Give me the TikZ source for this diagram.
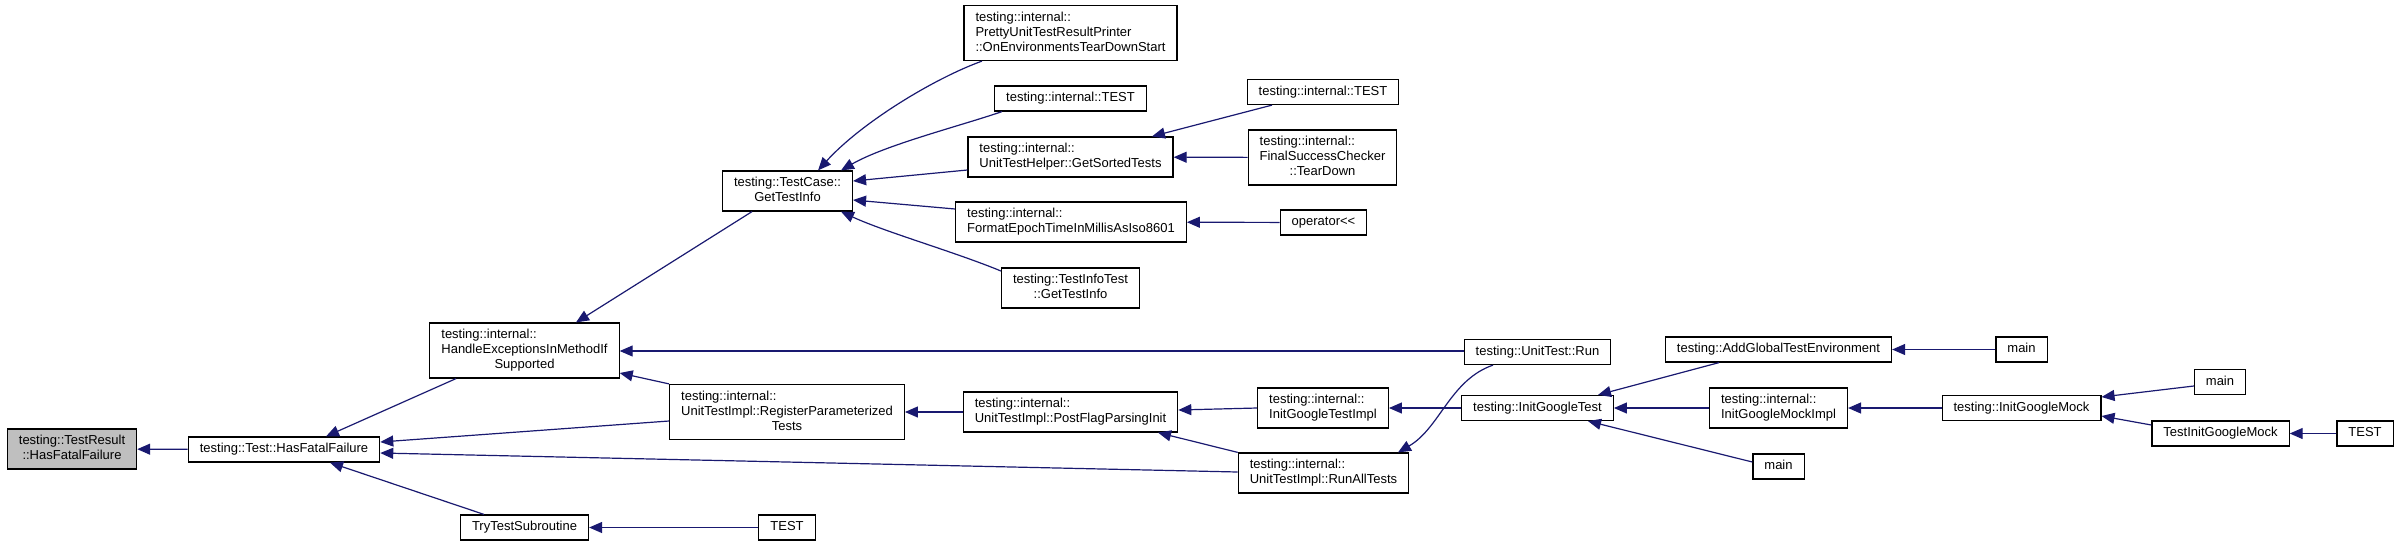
\documentclass[tikz,border=0pt]{standalone}
\usepackage{fontspec}
\setmainfont{Liberation Sans}
\usetikzlibrary{arrows.meta}
\definecolor{edgeblue}{HTML}{191970}
\definecolor{hlgray}{HTML}{BFBFBF}
\newcommand{\mcc}[1]{\multicolumn{1}{@{}c@{}}{#1}}
\newcommand{\tl}[1]{\begin{tabular}{@{}l@{}}#1\end{tabular}}
\newcommand{\tc}[1]{\begin{tabular}{@{}c@{}}#1\end{tabular}}
\tikzset{
  fn/.style={draw=black, fill=white, line width=1.2pt, rectangle, inner xsep=11.5pt, inner ysep=5pt,
    font=\fontsize{13}{15}\selectfont},
  cur/.style={fn, fill=hlgray},
  e/.style={draw=edgeblue, line width=1.2pt, -{Triangle[length=13pt,width=11pt]}}
}
\begin{document}
\begin{tikzpicture}[x=1pt,y=-1pt]
\useasboundingbox (0,0) rectangle (2395,547);
% column 0
\node[cur] (tr) at (72,449) {\tc{testing::TestResult\\::HasFatalFailure}};
% column 1
\node[fn] (hff) at (284,449.5) {\strut testing::Test::HasFatalFailure};
% column 2
\node[fn] (hei) at (524.5,350.5) {\tl{testing::internal::\\HandleExceptionsInMethodIf\\\mcc{Supported}}};
\node[fn] (tts) at (524.5,527.5) {\strut TryTestSubroutine};
% column 3
\node[fn] (gti) at (787.5,191) {\tc{testing::TestCase::\\GetTestInfo}};
\node[fn] (rpt) at (787,412) {\tl{testing::internal::\\UnitTestImpl::RegisterParameterized\\\mcc{Tests}}};
\node[fn] (testb) at (787,527.5) {\strut TEST};
% column 4
\node[fn] (pretty) at (1070.5,33) {\tl{testing::internal::\\PrettyUnitTestResultPrinter\\::OnEnvironmentsTearDownStart}};
\node[fn] (itesta) at (1070.5,98.5) {\strut testing::internal::TEST};
\node[fn] (gst) at (1070.5,157) {\tl{testing::internal::\\UnitTestHelper::GetSortedTests}};
\node[fn] (fet) at (1071,222) {\tl{testing::internal::\\FormatEpochTimeInMillisAsIso8601}};
\node[fn] (tit) at (1070.5,288) {\tc{testing::TestInfoTest\\::GetTestInfo}};
\node[fn] (pfp) at (1070.5,412) {\tl{testing::internal::\\UnitTestImpl::PostFlagParsingInit}};
% column 5
\node[fn] (itestb) at (1323,92) {\strut testing::internal::TEST};
\node[fn] (fsc) at (1322.5,157.5) {\tl{testing::internal::\\FinalSuccessChecker\\\mcc{::TearDown}}};
\node[fn] (opl) at (1323.5,222.5) {\strut operator<{}<};
\node[fn] (igti) at (1323,408) {\tl{testing::internal::\\InitGoogleTestImpl}};
\node[fn] (rat) at (1323.5,473) {\tl{testing::internal::\\UnitTestImpl::RunAllTests}};
% column 6
\node[fn] (utr) at (1537.5,352) {\strut testing::UnitTest::Run};
\node[fn] (igt) at (1537.5,408) {\strut testing::InitGoogleTest};
% column 7
\node[fn] (agte) at (1778.5,349.5) {\strut testing::AddGlobalTestEnvironment};
\node[fn] (igmi) at (1778.5,408) {\tl{testing::internal::\\InitGoogleMockImpl}};
\node[fn] (mainb) at (1778.5,466.5) {\strut main};
% column 8
\node[fn] (maint) at (2021.5,349.5) {\strut main};
\node[fn] (igm) at (2021.5,408) {\strut testing::InitGoogleMock};
% column 9
\node[fn] (mainr) at (2220,382) {\strut main};
\node[fn] (tigm) at (2220.5,433.5) {\strut TestInitGoogleMock};
% column 10
\node[fn] (testr) at (2365,433.5) {\strut TEST};

% edges (caller -> callee)
\draw[e] (hff) -- (tr);
\draw[e] (hei.south -| 456,0) -- (hff.north -| 326,0);
\draw[e] (rpt.west |- 0,421) -- (hff.east |- 0,442);
\draw[e] (rat.west |- 0,472) -- (hff.east |- 0,453);
\draw[e] (tts.north -| 484,0) -- (hff.south -| 330,0);
\draw[e] (testb) -- (tts);
\draw[e] (gti.south -| 752,0) -- (hei.north -| 576,0);
\draw[e] (rpt.north west) -- (hei.east |- 0,373);
\draw[e] (utr.west |- 0,351) -- (hei.east |- 0,351);
\draw[e] (pretty.south -| 982,0) .. controls (935,78) and (862,122) .. (gti.north -| 818,0);
\draw[e] (itesta.south -| 1002,0) .. controls (960,126) and (885,145) .. (gti.north -| 841,0);
\draw[e] (gst.west |- 0,170) -- (gti.east |- 0,181);
\draw[e] (fet.west |- 0,209) -- (gti.east |- 0,200);
\draw[e] (tit.west |- 0,271) .. controls (955,252) and (885,232) .. (gti.south -| 841,0);
\draw[e] (pfp) -- (rpt);
\draw[e] (itestb.south -| 1272,0) -- (gst.north -| 1152,0);
\draw[e] (fsc) -- (gst);
\draw[e] (opl) -- (fet);
\draw[e] (igti.west) -- (pfp.east |- 0,410);
\draw[e] (rat.north west) -- (pfp.south -| 1158,0);
\draw[e] (utr.south -| 1493,0) .. controls (1450,380) and (1440,428) .. (rat.north -| 1398,0);
\draw[e] (igt) -- (igti);
\draw[e] (agte.south -| 1719,0) -- (igt.north -| 1598,0);
\draw[e] (igmi) -- (igt);
\draw[e] (mainb.west |- 0,462) -- (igt.south -| 1588,0);
\draw[e] (maint) -- (agte);
\draw[e] (igm) -- (igmi);
\draw[e] (mainr.west |- 0,386) -- (igm.east |- 0,397);
\draw[e] (tigm.west |- 0,425) -- (igm.east |- 0,416);
\draw[e] (testr) -- (tigm);
\end{tikzpicture}
\end{document}
